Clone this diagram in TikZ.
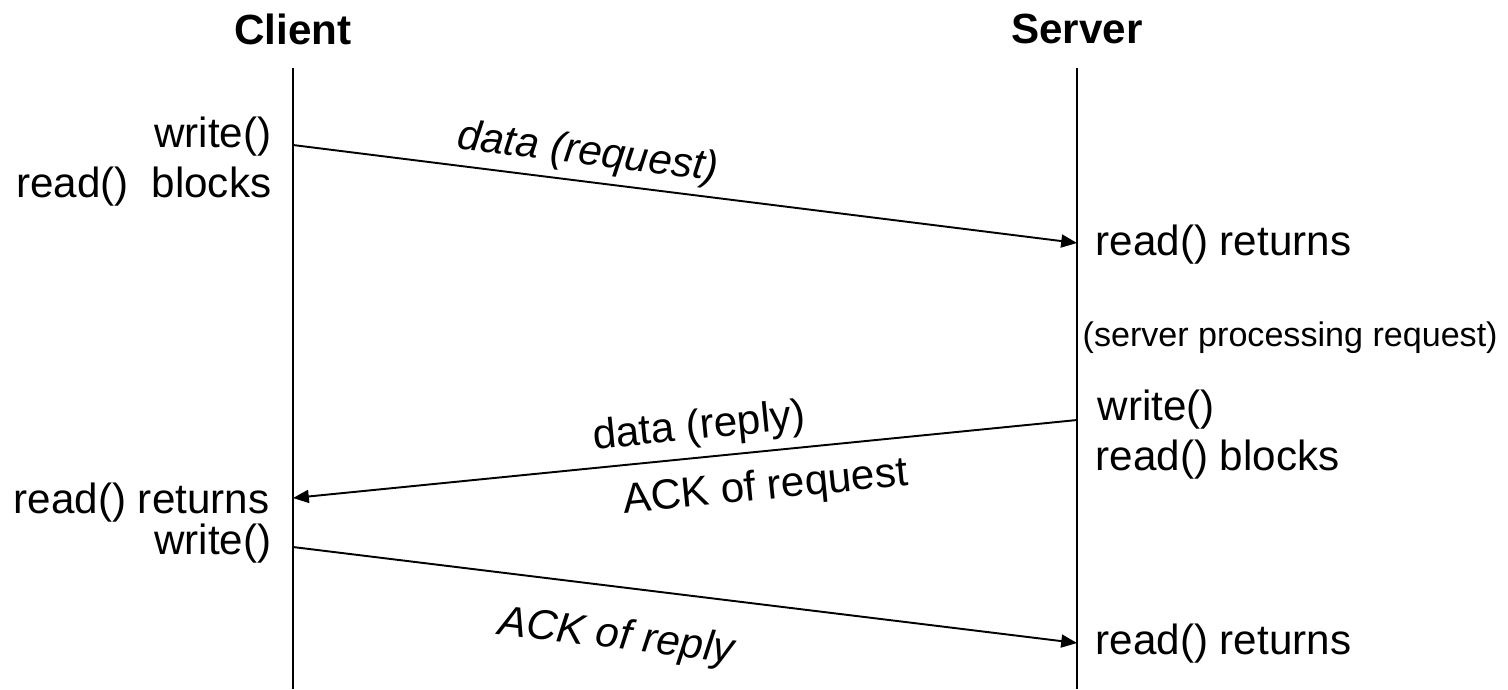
\documentclass[tikz,border=0pt]{standalone}
\usepackage{fontspec}
\setmainfont{Liberation Sans}
\usetikzlibrary{arrows.meta, positioning, calc}
\tikzset{
  lifeline/.style={line width=0.6pt,black},
  msgarr/.style={-{Triangle[length=4.5pt,width=3.7pt]},line width=0.55pt,black},
  hostnode/.style={font=\fontsize{12}{14}\selectfont\bfseries,inner sep=0pt},
  evtnode/.style={font=\fontsize{12}{14}\selectfont,inner sep=0pt},
  notenode/.style={font=\fontsize{9.7}{12}\selectfont,inner sep=0pt},
  msglabel/.style={font=\fontsize{12}{14}\selectfont,inner sep=0pt,sloped,pos=#1},
  itlabel/.style={msglabel=#1,font=\fontsize{12}{14}\selectfont\itshape}
}

\begin{document}
\begin{tikzpicture}
  \useasboundingbox (0,0) rectangle (15.08,-6.89);

  % hosts and lifelines
  \node[hostnode] (client) at (2.93,-0.29) {Client};
  \node[hostnode] (server) at (10.77,-0.29) {Server};
  \coordinate (cTop) at (2.93,-0.68);  \coordinate (cBot) at (2.93,-6.89);
  \coordinate (sTop) at (10.77,-0.68); \coordinate (sBot) at (10.77,-6.89);
  \draw[lifeline] (cTop) -- (cBot);
  \draw[lifeline] (sTop) -- (sBot);

  % message end points
  \coordinate (cReq) at (2.93,-1.45);  \coordinate (sReq) at (10.77,-2.43);
  \coordinate (sRep) at (10.77,-4.20); \coordinate (cRep) at (2.93,-4.98);
  \coordinate (cAck) at (2.93,-5.47);  \coordinate (sAck) at (10.77,-6.43);

  % messages
  \draw[msgarr] (cReq) -- node[itlabel=0.372,above=0.07cm] {data (request)} (sReq);
  \draw[msgarr] (sRep) -- (cRep);
  \path (cRep) -- (sRep)
    node[msglabel=0.522,above=0.09cm] {data (reply)}
    node[msglabel=0.598,below=0.17cm] {ACK of request};
  \draw[msgarr] (cAck) -- node[itlabel=0.42,below=0.30cm] {ACK of reply} (sAck);

  % client side events
  \node[evtnode,anchor=base east] (cWrite1) at (2.72,-1.47) {write()};
  \node[evtnode,anchor=base east] (cBlock) at (2.72,-1.97) {read()\hspace{0.54em}blocks};
  \node[evtnode,anchor=base east] (cRet) at (2.70,-5.13) {read() returns};
  \node[evtnode,anchor=base east] (cWrite2) at (2.72,-5.54) {write()};

  % server side events
  \node[evtnode,anchor=base west] (sRet1) at (10.95,-2.55) {read() returns};
  \node[notenode,anchor=base west] (sNote) at (10.82,-3.46) {(server processing request)};
  \node[evtnode,anchor=base west] (sWrite) at (10.97,-4.20) {write()};
  \node[evtnode,anchor=base west] (sBlock) at (10.95,-4.70) {read() blocks};
  \node[evtnode,anchor=base west] (sRet2) at (10.95,-6.54) {read() returns};
\end{tikzpicture}
\end{document}
